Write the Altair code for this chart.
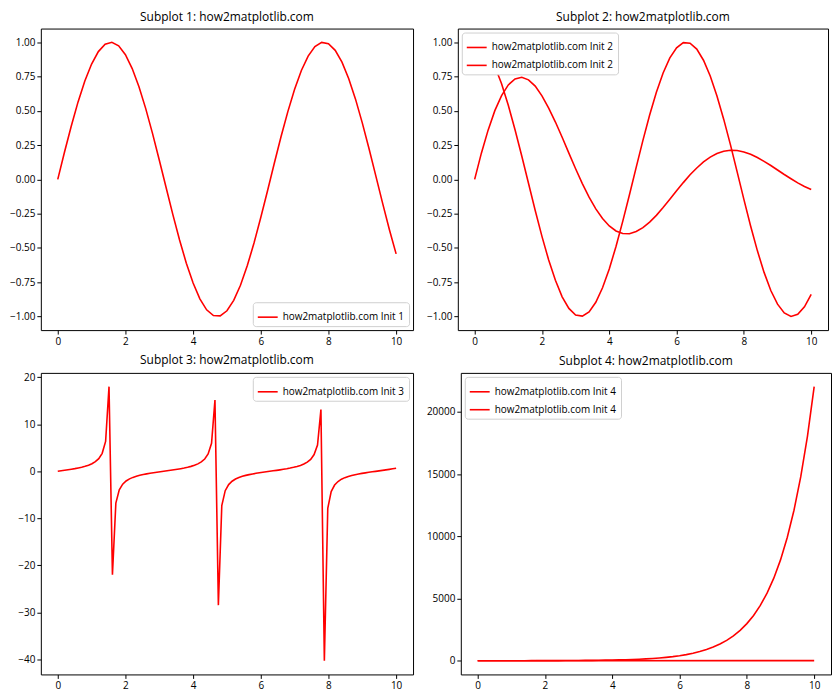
import altair as alt
import pandas as pd

# ---------------- data ----------------
x_s = [0.0, 0.2, 0.4, 0.6, 0.8, 1.0, 1.2, 1.4, 1.6, 1.8, 2.0, 2.2, 2.4, 2.6, 2.8, 3.0, 3.2, 3.4, 3.6, 3.8,
       4.0, 4.2, 4.4, 4.6, 4.8, 5.0, 5.2, 5.4, 5.6, 5.8, 6.0, 6.2, 6.4, 6.6, 6.8, 7.0, 7.2, 7.4, 7.6, 7.8,
       8.0, 8.2, 8.4, 8.6, 8.8, 9.0, 9.2, 9.4, 9.6, 9.8, 10.0]

sine = [0.0, 0.199, 0.389, 0.565, 0.717, 0.841, 0.932, 0.985, 0.9996, 0.974, 0.909, 0.808, 0.675, 0.516,
        0.335, 0.141, -0.058, -0.256, -0.443, -0.612, -0.757, -0.872, -0.952, -0.994, -0.996, -0.959,
        -0.883, -0.773, -0.631, -0.465, -0.279, -0.083, 0.117, 0.312, 0.494, 0.657, 0.794, 0.899, 0.968,
        0.999, 0.989, 0.941, 0.855, 0.734, 0.585, 0.412, 0.223, 0.025, -0.174, -0.366, -0.544]

cosine = [1.0, 0.980, 0.921, 0.825, 0.697, 0.540, 0.362, 0.170, -0.029, -0.227, -0.416, -0.589, -0.737,
          -0.857, -0.942, -0.990, -0.998, -0.967, -0.897, -0.791, -0.654, -0.490, -0.307, -0.112, 0.087,
          0.284, 0.469, 0.635, 0.776, 0.886, 0.960, 0.997, 0.993, 0.950, 0.869, 0.754, 0.608, 0.439, 0.253,
          0.054, -0.146, -0.340, -0.520, -0.679, -0.811, -0.911, -0.975, -1.000, -0.985, -0.930, -0.839]

damped = [0.0, 0.191, 0.359, 0.501, 0.611, 0.689, 0.733, 0.745, 0.726, 0.680, 0.609, 0.520, 0.418, 0.307,
          0.191, 0.077, -0.031, -0.130, -0.216, -0.286, -0.340, -0.377, -0.395, -0.397, -0.381, -0.353,
          -0.312, -0.263, -0.206, -0.146, -0.084, -0.024, 0.033, 0.083, 0.127, 0.162, 0.188, 0.205, 0.212,
          0.210, 0.200, 0.183, 0.159, 0.131, 0.101, 0.068, 0.035, 0.004, -0.026, -0.052, -0.074]

growth = [1.0, 1.22, 1.49, 1.82, 2.23, 2.72, 3.32, 4.06, 4.95, 6.05, 7.39, 9.03, 11.0, 13.5, 16.4, 20.1,
          24.5, 30.0, 36.6, 44.7, 54.6, 66.7, 81.5, 99.5, 121.5, 148.4, 181.3, 221.4, 270.4, 330.3, 403.4,
          492.7, 601.8, 735.1, 897.8, 1096.6, 1339.4, 1636.0, 1998.2, 2440.6, 2981.0, 3641.0, 4447.1,
          5431.7, 6634.2, 8103.1, 9897.1, 12088.4, 14764.8, 18033.7, 22026.5]

flat_x = [0.0, 10.0]
flat_y = [0.0, 10.0]

x_t = [0.0, 0.101, 0.202, 0.303, 0.404, 0.505, 0.606, 0.707, 0.808, 0.909, 1.010, 1.111, 1.212, 1.313,
       1.414, 1.515, 1.616, 1.717, 1.818, 1.919, 2.020, 2.121, 2.222, 2.323, 2.424, 2.525, 2.626, 2.727,
       2.828, 2.929, 3.030, 3.131, 3.232, 3.333, 3.434, 3.535, 3.636, 3.737, 3.838, 3.939, 4.040, 4.141,
       4.242, 4.343, 4.444, 4.545, 4.646, 4.747, 4.848, 4.949, 5.051, 5.152, 5.253, 5.354, 5.455, 5.556,
       5.657, 5.758, 5.859, 5.960, 6.061, 6.162, 6.263, 6.364, 6.465, 6.566, 6.667, 6.768, 6.869, 6.970,
       7.071, 7.172, 7.273, 7.374, 7.475, 7.576, 7.677, 7.778, 7.879, 7.980, 8.081, 8.182, 8.283, 8.384,
       8.485, 8.586, 8.687, 8.788, 8.889, 8.990, 9.091, 9.192, 9.293, 9.394, 9.495, 9.596, 9.697, 9.798,
       9.899, 10.0]

tangent = [0.0, 0.101, 0.205, 0.313, 0.427, 0.552, 0.695, 0.854, 1.046, 1.283, 1.593, 2.018, 2.670, 3.80,
           6.33, 17.97, -22.01, -6.78, -3.96, -2.755, -2.074, -1.627, -1.311, -1.068, -0.870, -0.708,
           -0.567, -0.440, -0.324, -0.216, -0.112, -0.010, 0.091, 0.194, 0.301, 0.416, 0.540, 0.680, 0.838,
           1.027, 1.257, 1.557, 1.966, 2.594, 3.66, 5.93, 15.15, -28.47, -7.30, -4.14, -2.84, -2.13, -1.660,
           -1.338, -1.087, -0.886, -0.722, -0.580, -0.452, -0.335, -0.226, -0.122, -0.021, 0.081, 0.183,
           0.290, 0.404, 0.526, 0.665, 0.821, 1.006, 1.231, 1.523, 1.920, 2.522, 3.54, 5.58, 13.10, -40.3,
           -7.91, -4.33, -2.94, -2.19, -1.695, -1.368, -1.110, -0.905, -0.738, -0.594, -0.464, -0.347,
           -0.237, -0.133, -0.031, 0.070, 0.173, 0.279, 0.392, 0.514, 0.648]

titles = ["Subplot 1: how2matplotlib.com", "Subplot 2: how2matplotlib.com",
          "Subplot 3: how2matplotlib.com", "Subplot 4: how2matplotlib.com"]
labels = ["how2matplotlib.com Init 1", "how2matplotlib.com Init 2",
          "how2matplotlib.com Init 3", "how2matplotlib.com Init 4"]

x_ticks = [0, 2, 4, 6, 8, 10]
y1_ticks = [-1.0, -0.75, -0.5, -0.25, 0.0, 0.25, 0.5, 0.75, 1.0]
y3_ticks = [-40, -30, -20, -10, 0, 10, 20]
y4_ticks = [0, 5000, 10000, 15000, 20000]

FONT = "Open Sans"
W1, W2, H = 374, 372, 303


def frame(xs, ys, key):
    return pd.DataFrame({"x": xs, "y": ys, "s": key})


def panel(df, title, label, ydom, yticks, yfmt, lorient, width):
    keys = list(dict.fromkeys(df["s"]))
    return alt.Chart(df, title=title).mark_line(strokeWidth=1.6, clip=True).encode(
        x=alt.X("x:Q", scale=alt.Scale(domain=[-0.5, 10.5], nice=False, zero=False),
                axis=alt.Axis(values=x_ticks, format="d", title=None)),
        y=alt.Y("y:Q", scale=alt.Scale(domain=ydom, nice=False, zero=False),
                axis=alt.Axis(values=yticks, format=yfmt, title=None, minExtent=32, maxExtent=32)),
        color=alt.Color("s:N", scale=alt.Scale(domain=keys, range=["#ff0000"] * len(keys)),
                        legend=alt.Legend(title=None, orient=lorient, labelExpr=f"'{label}'",
                                          symbolType="stroke", symbolSize=400, symbolStrokeWidth=1.6,
                                          labelFont=FONT, labelFontSize=10, labelColor="#000",
                                          strokeColor="#d0d0d0", fillColor="white", cornerRadius=3,
                                          padding=4, rowPadding=2, offset=4)),
        detail="s:N",
    ).properties(width=width, height=H)


p1 = panel(frame(x_s, sine, "a"), titles[0], labels[0], [-1.1, 1.1], y1_ticks, ".2f", "bottom-right", W1)
p2 = panel(pd.concat([frame(x_s, cosine, "a"), frame(x_s, damped, "b")]), titles[1], labels[1],
           [-1.1, 1.1], y1_ticks, ".2f", "top-left", W2)
p3 = panel(frame(x_t, tangent, "a"), titles[2], labels[2], [-43.2, 20.9], y3_ticks, "d", "top-right", W1)
p4 = panel(pd.concat([frame(flat_x, flat_y, "a"), frame(x_s, growth, "b")]), titles[3], labels[3],
           [-1101, 23128], y4_ticks, "d", "top-left", W2)

row1 = alt.hconcat(p1, p2, spacing=11).resolve_scale(color="independent", x="independent", y="independent").resolve_legend(color="independent")
row2 = alt.hconcat(p3, p4, spacing=11).resolve_scale(color="independent", x="independent", y="independent").resolve_legend(color="independent")

chart = alt.vconcat(
    row1, row2, spacing=6,
).resolve_scale(
    color="independent", x="independent", y="independent"
).resolve_legend(
    color="independent"
).properties(padding=0).configure_view(
    stroke="#000", strokeWidth=1
).configure_axis(
    grid=False, domain=False, tickColor="#000", tickSize=4, labelPadding=2,
    labelFont=FONT, labelFontSize=10, labelColor="#000"
).configure_title(
    font=FONT, fontSize=12, fontWeight="normal", color="#000", offset=5
)

chart.save("out.html", embed_options={"renderer": "svg", "actions": False})
